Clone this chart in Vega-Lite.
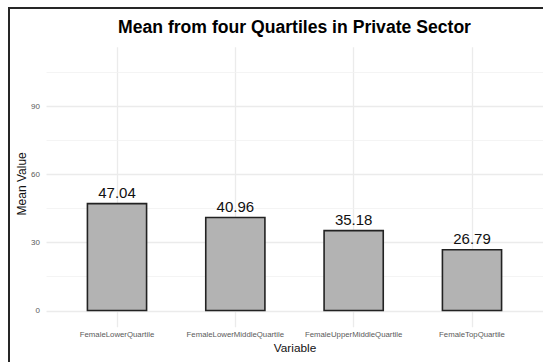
{
  "$schema": "https://vega.github.io/schema/vega-lite/v6.json",
  "autosize": "none",
  "width": 534,
  "height": 354,
  "padding": {"left": 9, "top": 8, "right": 0, "bottom": 0},
  "background": "white",
  "title": {
    "text": "Mean from four Quartiles in Private Sector",
    "font": "Liberation Sans",
    "fontSize": 17.6,
    "fontWeight": "bold",
    "color": "#000000",
    "anchor": "middle",
    "baseline": "alphabetic",
    "offset": -42.6,
    "dx": 18.5
  },
  "config": {
    "font": "Liberation Sans",
    "view": {
      "fill": "white",
      "stroke": "#262626",
      "strokeWidth": 2,
      "strokeDash": [534, 888, 354]
    }
  },
  "data": {
    "values": [
      {"Variable": "FemaleLowerQuartile", "MeanValue": 47.04},
      {"Variable": "FemaleLowerMiddleQuartile", "MeanValue": 40.96},
      {"Variable": "FemaleUpperMiddleQuartile", "MeanValue": 35.18},
      {"Variable": "FemaleTopQuartile", "MeanValue": 26.79}
    ]
  },
  "encoding": {
    "x": {
      "field": "Variable",
      "type": "nominal",
      "sort": null,
      "scale": {"range": [37, 534], "paddingInner": 0.5, "paddingOuter": 0.35},
      "axis": {
        "title": "Variable",
        "labelAngle": 0,
        "labelOverlap": false,
        "bandPosition": 0.5,
        "grid": true,
        "gridColor": "#EBEBEB",
        "gridWidth": 1.3,
        "ticks": false,
        "domain": false,
        "offset": -38.7,
        "labelPadding": 7,
        "labelBaseline": "top",
        "labelFontSize": 7.8,
        "labelColor": "#5A5A5A",
        "titleFontSize": 11.8,
        "titleFontWeight": "normal",
        "titleColor": "#111111",
        "titlePadding": 4
      }
    },
    "y": {
      "field": "MeanValue",
      "type": "quantitative",
      "scale": {"domain": [-5.6, 117.6], "range": [315.3, 35.3], "nice": false, "zero": false},
      "axis": {
        "title": "Mean Value",
        "values": [0, 15, 30, 45, 60, 75, 90, 105],
        "labelExpr": "datum.value % 30 === 0 ? datum.label : ''",
        "grid": true,
        "gridColor": {"condition": {"test": "datum.value % 30 === 0", "value": "#EBEBEB"}, "value": "#F1F1F1"},
        "gridWidth": {"condition": {"test": "datum.value % 30 === 0", "value": 1.3}, "value": 0.8},
        "ticks": false,
        "domain": false,
        "offset": -37,
        "labelPadding": 6.5,
        "labelFontSize": 8,
        "labelColor": "#5A5A5A",
        "titleFontSize": 12,
        "titleFontWeight": "normal",
        "titleColor": "#111111",
        "titlePadding": 2
      }
    }
  },
  "layer": [
    {
      "mark": {"type": "bar", "fill": "#B3B3B3", "stroke": "#222222", "strokeWidth": 1.6},
      "encoding": {"y2": {"datum": 0}}
    },
    {
      "mark": {"type": "text", "baseline": "alphabetic", "dy": -5.5, "fontSize": 15, "color": "#111111"},
      "encoding": {"text": {"field": "MeanValue", "type": "quantitative", "format": ".2f"}}
    }
  ]
}
